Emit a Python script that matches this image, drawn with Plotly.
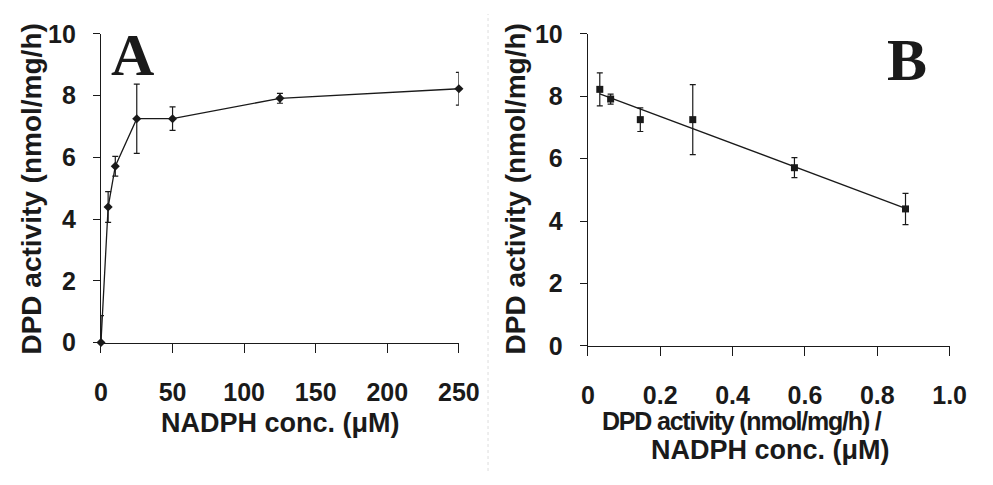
import numpy as np
import plotly.graph_objects as go

W, H = 993, 485

# Panel A: DPD activity vs NADPH concentration
nadph_conc = [0, 5, 10, 25, 50, 125, 250]
activity_a = [0.0, 4.39, 5.71, 7.25, 7.25, 7.91, 8.22]
activity_a_err = [0.87, 0.50, 0.32, 1.12, 0.38, 0.16, 0.53]

# Panel B: activity vs activity / NADPH concentration
ratio_b = [0.033, 0.063, 0.145, 0.290, 0.571, 0.878]
activity_b = [8.22, 7.91, 7.25, 7.25, 5.71, 4.39]
activity_b_err = [0.53, 0.16, 0.38, 1.12, 0.32, 0.50]

x_ticks_a = [0, 50, 100, 150, 200, 250]
x_ticks_b = [0, 0.2, 0.4, 0.6, 0.8, 1.0]
x_tick_text_b = ["0", "0.2", "0.4", "0.6", "0.8", "1.0"]
y_ticks = [0, 2, 4, 6, 8, 10]

INK = "#1a1a1a"
FONT = "Liberation Sans, Arial, sans-serif"


def px_x(p):
    return p / W


def px_y(p):
    return 1 - p / H


fig = go.Figure()

# --- Panel A ---
fig.add_trace(go.Scatter(
    x=nadph_conc, y=activity_a, mode="markers",
    marker=dict(size=0.1, color=INK),
    error_y=dict(type="data", array=activity_a_err, color=INK, thickness=1.2, width=3),
    xaxis="x", yaxis="y", cliponaxis=True, showlegend=False, hoverinfo="skip"))
fig.add_trace(go.Scatter(
    x=nadph_conc, y=activity_a, mode="lines+markers",
    line=dict(color=INK, width=1.3),
    marker=dict(symbol="diamond", size=7, color=INK),
    xaxis="x", yaxis="y", cliponaxis=False, showlegend=False))

# --- Panel B ---
slope, intercept = np.polyfit(ratio_b, activity_b, 1)
fit_x = np.array([min(ratio_b), max(ratio_b)])
fig.add_trace(go.Scatter(
    x=fit_x, y=slope * fit_x + intercept, mode="lines",
    line=dict(color=INK, width=1.3),
    xaxis="x2", yaxis="y2", showlegend=False, hoverinfo="skip"))
fig.add_trace(go.Scatter(
    x=ratio_b, y=activity_b, mode="markers",
    marker=dict(symbol="square", size=7, color=INK),
    error_y=dict(type="data", array=activity_b_err, color=INK, thickness=1.2, width=3),
    xaxis="x2", yaxis="y2", cliponaxis=False, showlegend=False))

tickfont = dict(family=FONT, size=25, color=INK, weight="bold")
axis_common = dict(
    showgrid=False, zeroline=False, showline=True, linecolor=INK, linewidth=1.2,
    ticks="outside", tickcolor=INK, tickwidth=1.2, tickfont=tickfont,
)

fig.update_layout(
    width=W, height=H,
    margin=dict(l=0, r=0, t=0, b=0),
    paper_bgcolor="white", plot_bgcolor="white",
    xaxis=dict(axis_common, domain=[px_x(96.7), px_x(465)], range=[0, 250],
               tickvals=x_ticks_a, ticklen=9, anchor="y", ticklabelstandoff=18),
    yaxis=dict(axis_common, domain=[px_y(348.7), px_y(21)], range=[0, 10],
               tickvals=y_ticks, ticklen=7, anchor="x", ticklabelstandoff=12),
    xaxis2=dict(axis_common, domain=[px_x(597.7), px_x(970)], range=[0, 1.0],
                tickvals=x_ticks_b, ticktext=x_tick_text_b, ticklen=9, anchor="y2",
                ticklabelstandoff=18),
    yaxis2=dict(axis_common, domain=[px_y(352.3), px_y(21)], range=[0, 10],
                tickvals=y_ticks, ticklen=7, anchor="x2", ticklabelstandoff=12),
)

title_font = dict(family=FONT, size=27, color=INK, weight="bold")
title_font_b1 = dict(family=FONT, size=25, color=INK, weight="bold")
ytitle_font = dict(family=FONT, size=28, color=INK, weight="bold")
letter_font = dict(family="Liberation Serif, Times New Roman, serif", size=60,
                   color=INK, weight="bold")

annotations = [
    dict(text="DPD activity (nmol/mg/h)", x=px_x(25), y=px_y(186), textangle=-90,
         font=ytitle_font),
    dict(text="DPD activity (nmol/mg/h)", x=px_x(523), y=px_y(186), textangle=-90,
         font=ytitle_font),
    dict(text="NADPH conc. (μM)", x=px_x(281), y=px_y(434), font=title_font),
    dict(text='<span style="letter-spacing:-1.2px">DPD activity (nmol/mg/h) /</span>',
         x=px_x(756), y=px_y(432), font=title_font_b1),
    dict(text="NADPH conc. (μM)", x=px_x(786), y=px_y(463), font=title_font),
    dict(text="A", x=px_x(129), y=px_y(44), font=letter_font),
    dict(text="B", x=px_x(926), y=px_y(49), font=letter_font),
]
for a in annotations:
    a.update(xref="paper", yref="paper", showarrow=False, xanchor="center", yanchor="middle")
fig.update_layout(annotations=annotations)

# faint dotted separator between the two panels
fig.add_shape(type="line", xref="paper", yref="paper", x0=px_x(495), x1=px_x(495),
              y0=0, y1=1, line=dict(color="#dddddd", width=1, dash="dot"))

fig.write_html("out.html")
